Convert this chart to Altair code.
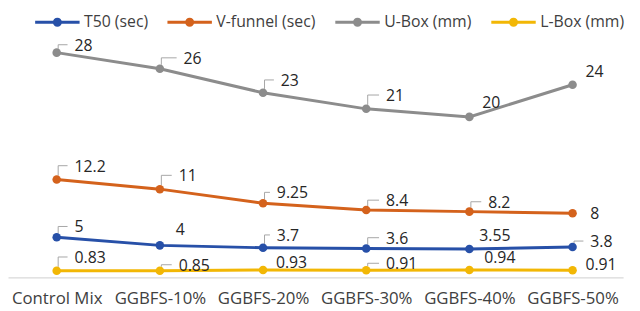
import math
import altair as alt
import pandas as pd

# ---- data ----
categories = ["Control Mix", "GGBFS-10%", "GGBFS-20%", "GGBFS-30%", "GGBFS-40%", "GGBFS-50%"]
series_names = ["T50 (sec)", "V-funnel (sec)", "U-Box (mm)", "L-Box (mm)"]
t50 = [5, 4, 3.7, 3.6, 3.55, 3.8]
v_funnel = [12.2, 11, 9.25, 8.4, 8.2, 8]
u_box = [28, 26, 23, 21, 20, 24]
l_box = [0.83, 0.85, 0.93, 0.91, 0.94, 0.91]
colors = ["#2750A8", "#D4621C", "#8C8C8C", "#F2B705"]

# ---- label layout (pixel offsets of label start / centre from the point) ----
label_dx = {
    "T50 (sec)": [18, 16, 14, 20, 10, 18],
    "V-funnel (sec)": [18, 19, 14, 20, 19, 18],
    "U-Box (mm)": [18, 24, 18, 20, 13, 13],
    "L-Box (mm)": [18, 19, 13, 20, 15, 13],
}
label_dy = {
    "T50 (sec)": [-10, -15, -12, -10, -13, -5],
    "V-funnel (sec)": [-13, -13, -10, -9, -9, 1],
    "U-Box (mm)": [-7, -10, -12, -13, -14, -13],
    "L-Box (mm)": [-13, -5, -7, -6, -12, -5],
}
leader = {
    "T50 (sec)": [1, 0, 1, 1, 0, 1],
    "V-funnel (sec)": [1, 1, 1, 1, 1, 0],
    "U-Box (mm)": [1, 1, 1, 1, 0, 0],
    "L-Box (mm)": [1, 1, 0, 1, 0, 0],
}

W, H = 623, 244
PAD_L, PAD_R = 0.472, 0.49
Y_MAX = 30
step = W / (len(categories) - 1 + PAD_L + PAD_R)
k = H / Y_MAX

values = {"T50 (sec)": t50, "V-funnel (sec)": v_funnel, "U-Box (mm)": u_box, "L-Box (mm)": l_box}

rows, lead_rows = [], []
for s in series_names:
    for i, v in enumerate(values[s]):
        dx, dy = label_dx[s][i], label_dy[s][i]
        lx = i + dx / step
        ly = v - dy / k
        rows.append({"series": s, "idx": i, "value": v, "label": f"{v:g}", "lx": lx, "ly": ly})
        if leader[s][i]:
            lid = f"{s}-{i}"
            pts = [(i + 1.5 / step, v + 4 / k), (i + 1.5 / step, v - (dy - 1) / k), (lx - 7 / step, v - (dy - 1) / k)]
            for o, (xx, yy) in enumerate(pts):
                lead_rows.append({"lid": lid, "o": o, "lxp": xx, "lyp": yy})

df = pd.DataFrame(rows)
lead = pd.DataFrame(lead_rows)

FONT = "Open Sans"
xscale = alt.Scale(domain=[-PAD_L, len(categories) - 1 + PAD_R], nice=False, zero=False)
yscale = alt.Scale(domain=[0, Y_MAX], nice=False)
label_expr = "[" + ",".join(f"'{c}'" for c in categories) + "][datum.value]"
color_scale = alt.Scale(domain=series_names, range=colors)

x_axis = alt.Axis(values=list(range(len(categories))), labelExpr=label_expr, title=None,
                  grid=False, ticks=False, domainColor="#D9D9D9", domainWidth=1.3,
                  labelFont=FONT, labelFontSize=17, labelColor="#404040", labelPadding=13,
                  labelFlush=False, labelOverlap=False)


def xe(field):
    return alt.X(field, scale=xscale, axis=x_axis)


def ye(field):
    return alt.Y(field, scale=yscale, axis=None)


# legend symbol: a line with a small dot (polygon approximation of a circle)
r = 0.135
poly = "".join(("M" if j == 0 else "L") + f"{r*math.cos(2*math.pi*j/16):.3f},{r*math.sin(2*math.pi*j/16):.3f}"
               for j in range(16)) + "Z"
legend_symbol = "M-1,0L1,0" + poly

legend = alt.Legend(title=None, orient="none", direction="horizontal",
                    legendX=26, legendY=-39,
                    symbolType=legend_symbol, symbolSize=2025, symbolStrokeWidth=3,
                    labelFont=FONT, labelFontSize=16, labelColor="#404040",
                    labelOffset=3, columnPadding=13)
color_enc = alt.Color("series:N", scale=color_scale, legend=legend)

leaders = alt.Chart(lead).mark_line(color="#A6A6A6", strokeWidth=1).encode(
    x=xe("lxp:Q"), y=ye("lyp:Q"), detail="lid:N", order="o:Q")

lines = alt.Chart(df).mark_line(strokeWidth=3).encode(x=xe("idx:Q"), y=ye("value:Q"), color=color_enc)

points = alt.Chart(df).mark_circle(size=75, opacity=1).encode(x=xe("idx:Q"), y=ye("value:Q"), color=color_enc)

labels = alt.Chart(df).mark_text(align="left", baseline="middle", font=FONT, fontSize=16,
                                 color="#262626").encode(
    x=xe("lx:Q"), y=ye("ly:Q"), text="label:N")

chart = alt.layer(leaders, lines, points, labels).properties(
    width=W, height=H,
    autosize=alt.AutoSizeParams(type="none"),
    padding={"left": 0, "top": 27, "right": 9, "bottom": 32},
).configure_view(stroke=None)

chart.save("out.html", embed_options={"renderer": "svg", "actions": False})
